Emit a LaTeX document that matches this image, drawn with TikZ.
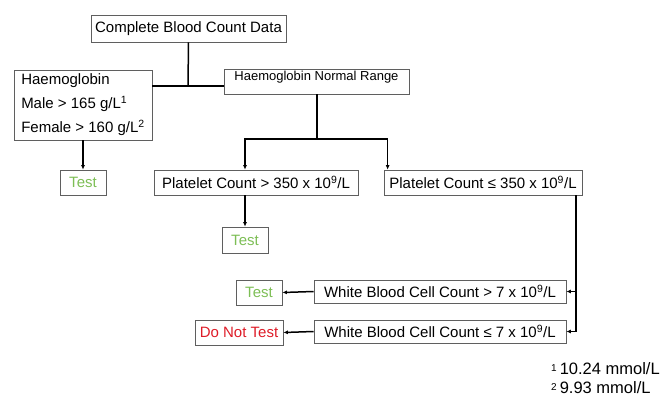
\documentclass[tikz,border=0pt]{standalone}
\usepackage{fontspec}
\setmainfont{Liberation Sans}
\usepackage{tikz}
\usetikzlibrary{arrows.meta}
\definecolor{testgreen}{RGB}{125,190,85}
\definecolor{notred}{RGB}{222,28,40}
\definecolor{boxgray}{RGB}{95,95,95}
\newcommand{\fnmark}[1]{\raisebox{3pt}{\fontsize{10}{10}\selectfont #1}\hspace{3pt}}

\begin{document}
\begin{tikzpicture}[x=1pt,y=-1pt,
    box/.style={draw=boxgray, line width=0.7pt, inner sep=0pt, font=\fontsize{15}{18}\selectfont},
    link/.style={line width=1.5pt, black},
    arr/.style={link, -{Latex[length=4.5pt,width=4pt]}}]
\useasboundingbox (0,0) rectangle (665,405);
\node[box, minimum width=195, minimum height=27] (cbc) at (188.5,28.5) {Complete Blood Count Data};
\node[box, minimum width=138, minimum height=70, align=left,
      font=\fontsize{15}{24}\selectfont] (hb) at (83,105) {Haemoglobin\\Male > 165 g/L\textsuperscript{1}\\Female > 160 g/L\textsuperscript{2}};
\node[box, minimum width=185, text height=11.6pt, text depth=13.4pt, font=\fontsize{13}{15}\selectfont] (hbn) at (316.5,81.5) {Haemoglobin Normal Range};
\node[box, minimum width=46, minimum height=25, text=testgreen] (t1) at (83,182.5) {Test};
\node[box, minimum width=204, minimum height=25] (p1) at (256,182.5) {Platelet Count > 350 x 10\textsuperscript{9}/L};
\node[box, minimum width=198, minimum height=25] (p2) at (483,182.5) {Platelet Count ≤ 350 x 10\textsuperscript{9}/L};
\node[box, minimum width=46, minimum height=26, text=testgreen] (t2) at (245,240) {Test};
\node[box, minimum width=252, minimum height=23] (w1) at (440,291.5) {White Blood Cell Count > 7 x 10\textsuperscript{9}/L};
\node[box, minimum width=252, minimum height=23] (w2) at (440,331.5) {White Blood Cell Count ≤ 7 x 10\textsuperscript{9}/L};
\node[box, minimum width=46, minimum height=25, text=testgreen] (t3) at (259,292.5) {Test};
\node[box, minimum width=88, minimum height=25, text=notred] (dnt) at (239,332.5) {Do Not Test};
\node[anchor=west, inner sep=0pt, font=\fontsize{16.5}{18}\selectfont] (fn1) at (551,369) {\fnmark{1}10.24 mmol/L};
\node[anchor=west, inner sep=0pt, font=\fontsize{16.5}{18}\selectfont] (fn2) at (551,388) {\fnmark{2}9.93 mmol/L};
\coordinate (split1) at (188,86);
\coordinate (split2) at (317,139);
\coordinate (drop) at (576,0);
\draw[link] (cbc.south) -- (split1);
\draw[link] (hb.east |- split1) -- (hbn.west |- split1);
\draw[arr] (hb.south) -- (t1.north);
\draw[link] (hbn.south -| split2) -- (split2);
\draw[arr] (split2) -| (t2.north |- p1.north);
\draw[arr] (split2) -| ([xshift=4pt]p2.north west);
\draw[arr] (p1.south -| t2) -- (t2.north);
\draw[arr] (p2.south -| drop) |- (w2.east);
\draw[arr] (w1.east -| drop) -- (w1.east);
\draw[arr] (w1.west) -- (t3.east);
\draw[arr] (w2.west) -- (dnt.east);
\end{tikzpicture}
\end{document}
